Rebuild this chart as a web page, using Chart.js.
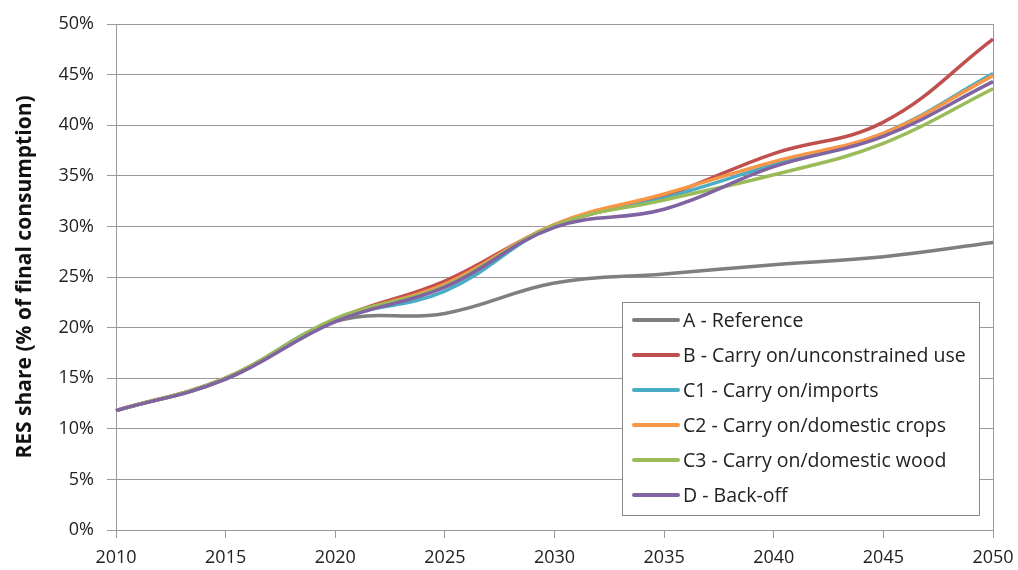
<!DOCTYPE html>
<html>
<head>
<meta charset="utf-8">
<script src="https://cdn.jsdelivr.net/npm/chart.js@4"></script>
<style>
html,body{margin:0;padding:0;background:#fff;}
#wrap{width:1018px;height:570px;position:relative;}
</style>
</head>
<body>
<div id="wrap"><canvas id="c" width="1018" height="570"></canvas></div>
<script>
const years = ['2010','2015','2020','2025','2030','2035','2040','2045','2050'];
const seriesNames = ['A - Reference','B - Carry on/unconstrained use','C1 - Carry on/imports','C2 - Carry on/domestic crops','C3 - Carry on/domestic wood','D - Back-off'];
const seriesA  = [11.8, 14.9, 20.6, 21.4, 24.4, 25.3, 26.2, 27.0, 28.4];
const seriesB  = [11.8, 15.0, 20.8, 24.6, 30.1, 33.0, 37.2, 40.3, 48.5];
const seriesC1 = [11.8, 15.0, 20.8, 23.6, 30.1, 32.8, 36.1, 39.2, 45.1];
const seriesC2 = [11.8, 15.0, 20.8, 24.3, 30.2, 33.2, 36.4, 39.2, 44.9];
const seriesC3 = [11.8, 15.0, 20.9, 24.1, 30.1, 32.6, 35.1, 38.2, 43.6];
const seriesD  = [11.8, 14.9, 20.6, 24.0, 29.9, 31.7, 35.9, 38.9, 44.3];
const yTicks = [0,5,10,15,20,25,30,35,40,45,50];

const colors = ['#7f7f7f','#c0504d','#4bacc6','#f79646','#9bbb59','#8064a2'];
const allSeries = [seriesA, seriesB, seriesC1, seriesC2, seriesC3, seriesD];
const FONT = '"Open Sans", "Noto Sans", sans-serif';
const GRID = '#9a9a9a';

const legendPlugin = {
  id: 'insideLegend',
  afterDraw(chart) {
    const ctx = chart.ctx;
    const x0 = 622, y0 = 302, w = 357, h = 213;
    ctx.save();
    ctx.fillStyle = '#fff';
    ctx.fillRect(x0, y0, w, h);
    ctx.strokeStyle = '#8a8a8a';
    ctx.lineWidth = 1;
    ctx.strokeRect(x0 + 0.5, y0 + 0.5, w, h);
    ctx.font = '19.5px ' + FONT;
    ctx.textBaseline = 'middle';
    ctx.textAlign = 'left';
    chart.data.datasets.forEach((ds, i) => {
      const y = 320 + i * 35;
      ctx.strokeStyle = ds.borderColor;
      ctx.lineWidth = 4;
      ctx.lineCap = 'round';
      ctx.beginPath();
      ctx.moveTo(634, y);
      ctx.lineTo(678, y);
      ctx.stroke();
      ctx.fillStyle = '#222';
      ctx.fillText(ds.label, 683, y + 1);
    });
    ctx.restore();
  }
};

new Chart(document.getElementById('c'), {
  type: 'line',
  data: {
    labels: years,
    datasets: allSeries.map((s, i) => ({
      label: seriesNames[i],
      data: s,
      borderColor: colors[i],
      backgroundColor: colors[i],
      borderWidth: 3.5,
      pointRadius: 0,
      tension: 0.4,
      fill: false,
      order: 5 - i
    }))
  },
  options: {
    responsive: false,
    animation: false,
    layout: { padding: { left: 0, right: 25, top: 24, bottom: 0 } },
    plugins: { legend: { display: false }, tooltip: { enabled: false } },
    scales: {
      x: {
        type: 'category',
        offset: false,
        afterFit(s) { s.height = 40; s.paddingLeft = 0; s.paddingRight = 0; },
        grid: {
          offset: false,
          drawOnChartArea: true,
          color: c => c.index === years.length - 1 ? GRID : 'rgba(0,0,0,0)',
          tickColor: GRID,
          tickLength: 8
        },
        border: { color: GRID, width: 1 },
        ticks: { color: '#222', font: { family: FONT, size: 18 }, padding: 9, maxRotation: 0, autoSkip: false }
      },
      y: {
        min: 0, max: 50,
        afterFit(s) { s.width = 116; s.paddingTop = 0; s.paddingBottom = 0; },
        afterBuildTicks(s) { s.ticks = yTicks.map(v => ({ value: v })); },
        grid: { color: GRID, tickColor: GRID, tickLength: 9 },
        border: { color: GRID, width: 1 },
        ticks: { color: '#222', font: { family: FONT, size: 18 }, padding: 13, callback: v => v + '%' },
        title: {
          display: true,
          text: 'RES share (% of final consumption)',
          color: '#111',
          font: { family: FONT, size: 21, weight: 'bold' },
          padding: { top: 12, bottom: 0 }
        }
      }
    }
  },
  plugins: [legendPlugin]
});
</script>
</body>
</html>
